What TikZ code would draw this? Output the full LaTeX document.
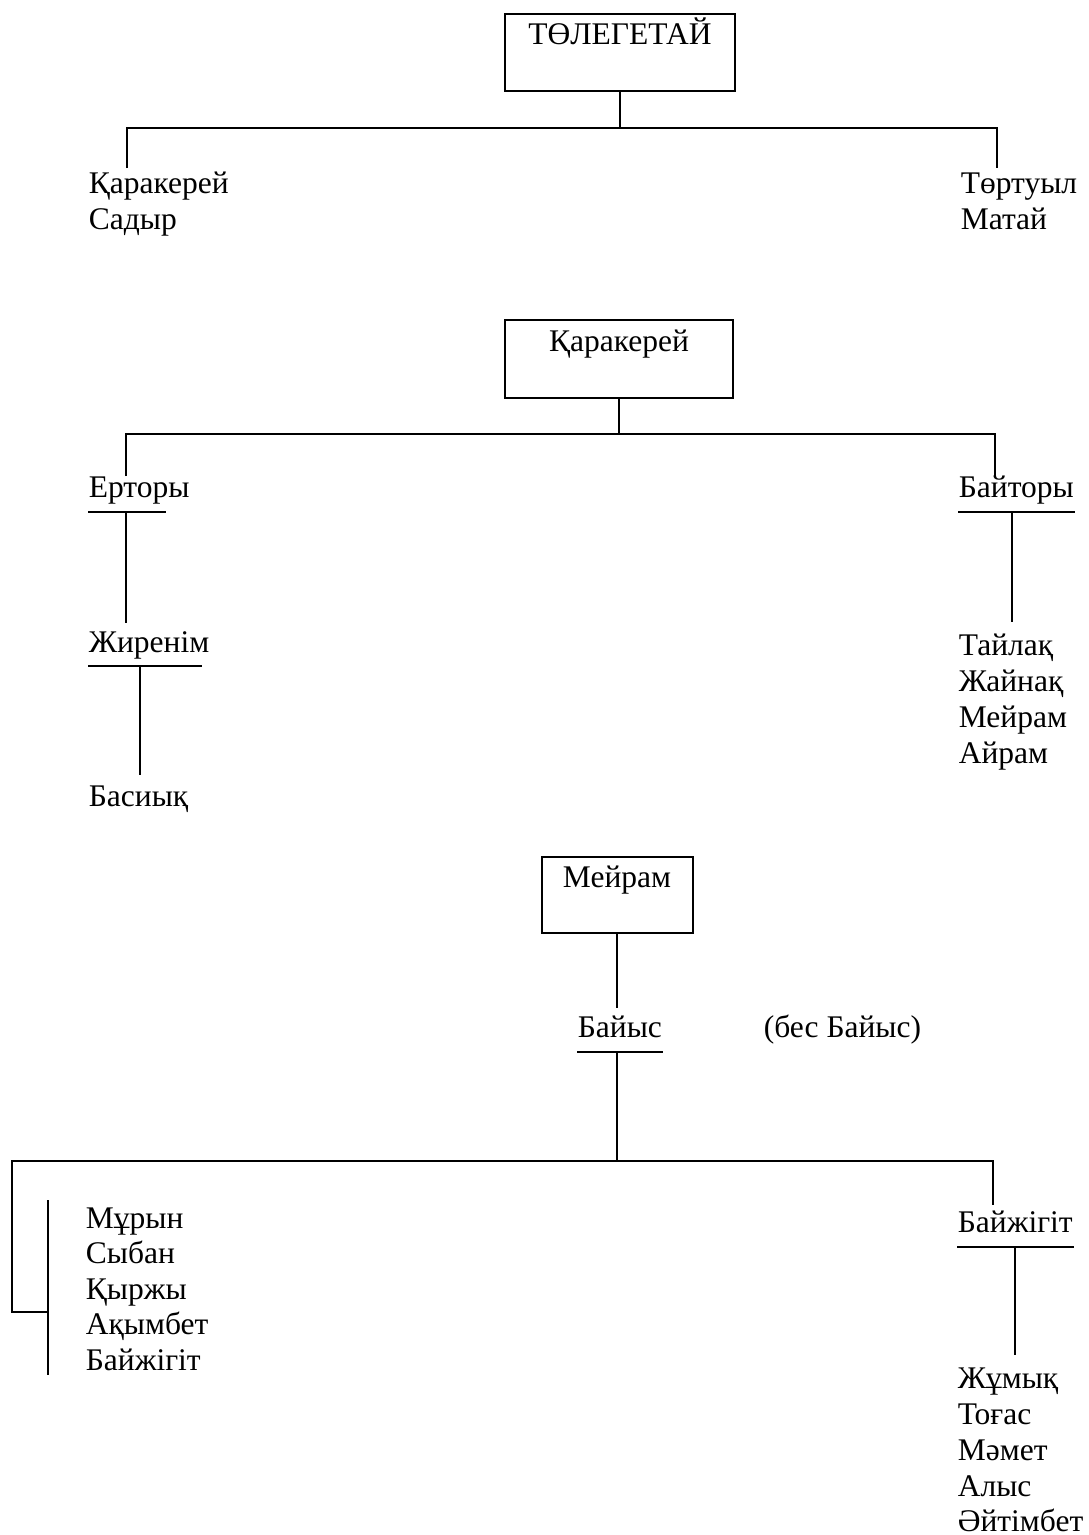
\documentclass[tikz,border=0pt]{standalone}
\usepackage{fontspec}
\setmainfont{Liberation Serif}
\begin{document}
\begin{tikzpicture}[x=1pt,y=-1pt,line width=1.7pt,
  lbl/.style={inner sep=0pt,anchor=base west,font=\fontsize{31.5}{36}\selectfont},
  ctr/.style={inner sep=0pt,anchor=base,font=\fontsize{31.5}{36}\selectfont},
  boxn/.style={draw,line width=2.2pt,inner sep=0pt,outer sep=0pt,anchor=north west}]
\useasboundingbox (0,0) rectangle (1088,1535);

% ---------- part 1 ----------
\node[boxn,minimum width=230pt,minimum height=77pt] (b1) at (505,14) {};
\node[ctr] (b1t) at (620,44) {ТӨЛЕГЕТАЙ};
\coordinate (j1) at (620,128);
\coordinate (l1) at (127,168);
\coordinate (r1) at (997,168);
\draw (b1.south) -- (j1);
\draw (l1) |- (j1) -| (r1);
\node[lbl] (k1) at (88,193) {Қаракерей};
\node[lbl] (k2) at (88,229) {Садыр};
\node[lbl] (k3) at (960,193) {Төртуыл};
\node[lbl] (k4) at (960,229) {Матай};

% ---------- part 2 ----------
\node[boxn,minimum width=228pt,minimum height=78pt] (b2) at (505,320) {};
\node[ctr] (b2t) at (619,351) {Қаракерей};
\coordinate (j2) at (619,434);
\coordinate (l2) at (126,476);
\coordinate (r2) at (995,476);
\draw (b2.south) -- (j2);
\draw (l2) |- (j2) -| (r2);
\node[lbl] (er) at (88,497) {Ерторы};
\node[lbl] (bt) at (958,497) {Байторы};
\coordinate (eru) at (166,512);
\draw ([yshift=-15pt]er.base west) -- (eru);
\draw ([yshift=-15pt]bt.base west) -- ([yshift=-15pt]bt.base east);
\coordinate (e1a) at (126,512);
\coordinate (e1b) at (126,623);
\draw (e1a) -- (e1b);
\node[lbl] (zh) at (88,652) {Жиренім};
\coordinate (zhu) at (202,666);
\draw ([yshift=-14pt]zh.base west) -- (zhu);
\coordinate (e2a) at (140,666);
\coordinate (e2b) at (140,775);
\draw (e2a) -- (e2b);
\node[lbl] (bs) at (88,806) {Басиық};
\coordinate (e3a) at (1012,512);
\coordinate (e3b) at (1012,622);
\draw (e3a) -- (e3b);
\node[lbl] (n1) at (958,655) {Тайлақ};
\node[lbl] (n2) at (958,691) {Жайнақ};
\node[lbl] (n3) at (958,727) {Мейрам};
\node[lbl] (n4) at (958,763) {Айрам};

% ---------- part 3 ----------
\node[boxn,minimum width=151pt,minimum height=76pt] (b3) at (542,857) {};
\node[ctr] (b3t) at (617,887) {Мейрам};
\node[lbl] (by) at (577,1037) {Байыс};
\node[lbl] (bb) at (763,1037) {(бес Байыс)};
\coordinate (f1) at (617,1008);
\draw (b3.south -| f1) -- (f1);
\draw ([yshift=-15pt]by.base west) -- ([yshift=-15pt]by.base east);
\coordinate (f2) at (617,1052);
\coordinate (j3) at (617,1161);
\coordinate (l3) at (12,1312);
\coordinate (lb) at (48,1312);
\coordinate (r3) at (993,1205);
\draw (f2) -- (j3);
\draw (lb) -- (l3) |- (j3) -| (r3);
\coordinate (br1) at (48,1200);
\coordinate (br2) at (48,1375);
\draw (br1) -- (br2);
\node[lbl] (m1) at (85,1228) {Мұрын};
\node[lbl] (m2) at (85,1263) {Сыбан};
\node[lbl] (m3) at (85,1299) {Қыржы};
\node[lbl] (m4) at (85,1334) {Ақымбет};
\node[lbl] (m5) at (85,1370) {Байжігіт};
\node[lbl] (bj) at (957,1232) {Байжігіт};
\draw ([yshift=-15pt]bj.base west) -- ([yshift=-15pt]bj.base east);
\coordinate (g1) at (1015,1247);
\coordinate (g2) at (1015,1355);
\draw (g1) -- (g2);
\node[lbl] (p1) at (957,1388) {Жұмық};
\node[lbl] (p2) at (957,1424) {Тоғас};
\node[lbl] (p3) at (957,1460) {Мәмет};
\node[lbl] (p4) at (957,1496) {Алыс};
\node[lbl] (p5) at (957,1531) {Әйтімбет};
\end{tikzpicture}
\end{document}
